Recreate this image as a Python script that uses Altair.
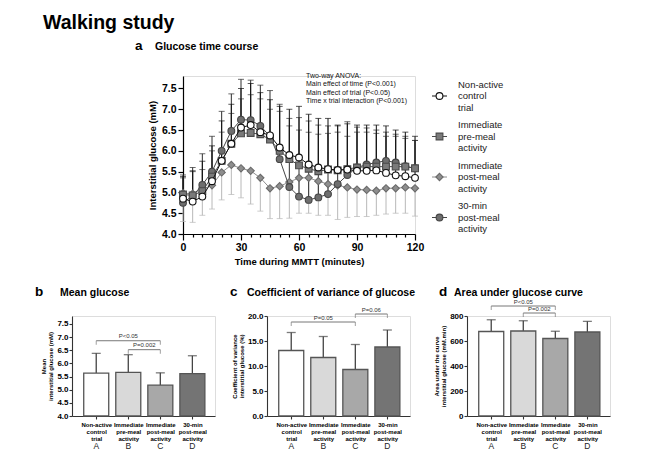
import altair as alt
import pandas as pd

FONT = "Liberation Sans"

# ---------------- data: glucose time course ----------------
times = [0, 5, 10, 15, 20, 25, 30, 35, 40, 45, 50, 55, 60, 65, 70, 75, 80, 85, 90, 95, 100, 105, 110, 115, 120]
control = [4.85, 4.78, 4.90, 5.27, 5.76, 6.17, 6.56, 6.62, 6.45, 6.37, 6.08, 5.90, 5.84, 5.67, 5.60, 5.56, 5.54, 5.55, 5.52, 5.52, 5.53, 5.47, 5.41, 5.39, 5.35]
premeal = [4.95, 4.93, 5.03, 5.38, 5.76, 6.17, 6.42, 6.43, 6.40, 6.27, 6.00, 5.80, 5.65, 5.57, 5.51, 5.55, 5.53, 5.56, 5.60, 5.62, 5.62, 5.62, 5.62, 5.62, 5.58]
postmeal = [4.98, 4.97, 5.08, 5.17, 5.48, 5.66, 5.58, 5.52, 5.35, 5.10, 5.15, 5.25, 5.35, 5.35, 5.27, 5.20, 5.17, 5.12, 5.07, 5.06, 5.04, 5.10, 5.10, 5.12, 5.10]
min30 = [4.75, 4.92, 5.18, 5.50, 6.00, 6.48, 6.75, 6.74, 6.60, 6.35, 5.80, 5.13, 4.90, 4.82, 4.88, 4.96, 5.20, 5.42, 5.60, 5.67, 5.72, 5.76, 5.72, 5.63, 5.58]
control_upper = [5.38, 5.52, 5.75, 6.12, 6.72, 7.12, 7.50, 7.62, 7.40, 7.23, 7.07, 7.00, 7.07, 6.88, 6.78, 6.78, 6.62, 6.65, 6.62, 6.62, 6.62, 6.60, 6.50, 6.45, 6.35]
premeal_upper = [5.35, 5.50, 5.55, 6.00, 6.45, 6.90, 7.25, 7.35, 7.25, 7.00, 6.95, 6.60, 6.50, 6.45, 6.40, 6.42, 6.60, 6.35, 6.45, 6.45, 6.42, 6.35, 6.35, 6.30, 6.25]
min30_upper = [5.42, 5.60, 5.93, 6.35, 6.95, 7.37, 7.72, 7.70, 7.58, 7.45, 7.12, 6.78, 6.80, 6.72, 6.62, 6.60, 6.45, 6.70, 6.57, 6.55, 6.50, 6.45, 6.40, 6.35, 6.25]
postmeal_lower = [4.30, 4.28, 4.45, 4.60, 4.82, 4.95, 4.87, 4.72, 4.55, 4.37, 4.37, 4.38, 4.50, 4.50, 4.45, 4.45, 4.35, 4.40, 4.42, 4.42, 4.45, 4.48, 4.50, 4.50, 4.43]

trial_lines = [["Non-active", "control", "trial"],
               ["Immediate", "pre-meal", "activity"],
               ["Immediate", "post-meal", "activity"],
               ["30-min", "post-meal", "activity"]]
trial_letters = ["A", "B", "C", "D"]
anova_lines = ["Two-way ANOVA:", "Main effect of time (P<0.001)",
               "Main effect of trial (P<0.05)", "Time x trial interaction (P<0.001)"]
y_ticks_main = [4.0, 4.5, 5.0, 5.5, 6.0, 6.5, 7.0, 7.5]

# ---------------- data: summary bars ----------------
mean_glucose = [5.63, 5.66, 5.17, 5.61]
mean_glucose_top = [6.38, 6.33, 5.64, 6.29]
cv_glucose = [13.1, 11.7, 9.3, 13.8]
cv_glucose_top = [16.7, 15.9, 14.3, 17.2]
auc_glucose = [676, 680, 620, 672]
auc_glucose_top = [770, 762, 678, 757]
brackets_b = [(0, 2, 6.86, "P<0.05"), (1, 2, 6.52, "P=0.002")]
brackets_c = [(0, 2, 18.8, "P=0.05"), (2, 3, 20.4, "P=0.06")]
brackets_d = [(0, 2, 880, "P<0.05"), (1, 2, 824, "P=0.002")]

# ---------------- styles ----------------
bar_fills = ["#ffffff", "#d9d9d9", "#a8a8a8", "#747474"]
series = [
    ("post", postmeal, postmeal_lower, 2, dict(shape="diamond", fill="#8e8e8e", stroke="#6a6a6a", line="#8e8e8e", err="#b8b8b8", size=52)),
    ("m30", min30, min30_upper, 3, dict(shape="circle", fill="#6e6e6e", stroke="#454545", line="#454545", err="#2e2e2e", size=46)),
    ("pre", premeal, premeal_upper, 1, dict(shape="square", fill="#7a7a7a", stroke="#4a4a4a", line="#4a4a4a", err="#3a3a3a", size=46)),
    ("ctl", control, control_upper, 0, dict(shape="circle", fill="#ffffff", stroke="#111111", line="#111111", err="#111111", size=46)),
]

W, H = 232, 158
one = pd.DataFrame({"k": [0]})
NOVIEW = alt.ViewBackground(stroke="transparent", fill="transparent")


def anchor(x, y):
    return alt.Chart(one).mark_point(size=0, filled=True, strokeWidth=0, opacity=0).encode(
        x=alt.value(x), y=alt.value(y))


# ---------------- row 0: figure title ----------------
tdf = pd.DataFrame({"big": ["Walking study"]})
row0 = alt.layer(
    anchor(-63, -20), anchor(-63, 6),
    alt.Chart(tdf).mark_text(align="left", baseline="alphabetic", fontSize=19.5, fontWeight="bold",
                             color="#000").encode(x=alt.value(-29), y=alt.value(0), text="big:N"),
).properties(width=1, height=1, view=NOVIEW)

# ---------------- row 1: time course ----------------
xs = alt.Scale(domain=[0, 120], nice=False, zero=False)
ys = alt.Scale(domain=[4.0, 7.8], nice=False, zero=False)
xaxis = alt.Axis(values=times, labelExpr="datum.value % 30 === 0 ? datum.label : ''",
                 tickSize={"condition": {"test": "datum.value % 30 === 0", "value": 6}, "value": 3},
                 title="Time during MMTT (minutes)", labelFontSize=10.5, labelFontWeight="bold",
                 titleFontSize=9.5, titleFontWeight="bold", labelPadding=2, titlePadding=4,
                 labelFlush=False, labelOverlap=False, grid=False, domainColor="#000", tickColor="#000",
                 domainWidth=1.2, tickWidth=1.2, labelColor="#000", titleColor="#000")
yaxis = alt.Axis(values=y_ticks_main, format=".1f", title="Interstitial glucose (mM)",
                 labelFontSize=10.5, labelFontWeight="bold", titleFontSize=9.5, titleFontWeight="bold",
                 tickSize=5, labelPadding=2, titlePadding=4, grid=False, domainColor="#000",
                 tickColor="#000", domainWidth=1.2, tickWidth=1.2, labelColor="#000", titleColor="#000")


def X(f):
    return alt.X(f"{f}:Q", scale=xs, axis=xaxis)


def Y(f):
    return alt.Y(f"{f}:Q", scale=ys, axis=yaxis)


main_layers = [anchor(-60, -39), anchor(-60, 200)]
legend_layers = []
for key, means, err, li, st in series:
    d = pd.DataFrame({"t": times, "v": means, "e": err})
    main_layers.append(alt.Chart(d).mark_rule(color=st["err"], strokeWidth=1).encode(x=X("t"), y=Y("v"), y2="e:Q"))
    main_layers.append(alt.Chart(d).mark_tick(orient="horizontal", size=6, thickness=1, color=st["err"]).encode(x=X("t"), y=Y("e")))
for key, means, err, li, st in series:
    d = pd.DataFrame({"t": times, "v": means})
    main_layers.append(alt.Chart(d).mark_line(color=st["line"], strokeWidth=1).encode(x=X("t"), y=Y("v")))
    main_layers.append(alt.Chart(d).mark_point(shape=st["shape"], size=st["size"], filled=True, fill=st["fill"],
                                               stroke=st["stroke"], strokeWidth=1.1, opacity=1).encode(x=X("t"), y=Y("v")))
    ly = 20 + 40.5 * li
    lg = pd.DataFrame({"label": ["\n".join(trial_lines[li])]})
    legend_layers.append(alt.Chart(lg).mark_rule(color=st["line"], strokeWidth=1).encode(
        x=alt.value(W + 17), x2=alt.value(W + 32), y=alt.value(ly)))
    legend_layers.append(alt.Chart(lg).mark_point(shape=st["shape"], size=st["size"], filled=True, fill=st["fill"],
                                                  stroke=st["stroke"], strokeWidth=1.1, opacity=1).encode(
        x=alt.value(W + 24.5), y=alt.value(ly)))
    for k, line in enumerate(trial_lines[li]):
        ldf = pd.DataFrame({"label": [line]})
        legend_layers.append(alt.Chart(ldf).mark_text(align="left", baseline="middle", fontSize=9.5,
                                                      color="#222").encode(
            x=alt.value(W + 43), y=alt.value(ly + (k - 1) * 11.5), text="label:N"))

anova = pd.DataFrame({"txt": ["\n".join(anova_lines)]})
main_layers.append(alt.Chart(anova).mark_text(align="left", baseline="top", fontSize=7, lineHeight=8.3,
                                              lineBreak="\n", color="#111").encode(
    x=alt.value(123), y=alt.value(-4), text="txt:N"))
titles_top = pd.DataFrame({"a": ["a"], "sub": ["Glucose time course"]})
main_layers.append(alt.Chart(titles_top).mark_text(align="left", baseline="alphabetic", fontSize=13.5,
                                                   fontWeight="bold", color="#000").encode(
    x=alt.value(-48), y=alt.value(-26.5), text="a:N"))
main_layers.append(alt.Chart(titles_top).mark_text(align="left", baseline="alphabetic", fontSize=10.5,
                                                   fontWeight="bold", color="#000").encode(
    x=alt.value(-28), y=alt.value(-26.5), text="sub:N"))

main = alt.layer(*(main_layers + legend_layers)).properties(width=W, height=H)
spacer = alt.layer(anchor(0, 0), anchor(49, 0)).properties(width=49, height=1, view=NOVIEW)
row1 = alt.hconcat(spacer, main, spacing=0)

# ---------------- row 2: bottom panels ----------------
PW, PH = 143, 100
label_expr = "[" + ",".join("[" + ",".join(f"'{s}'" for s in ln) + "]" for ln in trial_lines) + "][datum.value]"


def bar_panel(values, tops, ydom, yticks, yfmt, ytitle, brackets, letter, title, letter_dx, title_dx,
              left_mark, right_mark):
    xsb = alt.Scale(domain=[-0.6, 3.55], nice=False, zero=False)
    ysb = alt.Scale(domain=ydom, nice=False, zero=False)
    xab = alt.Axis(values=[0, 1, 2, 3], labelExpr=label_expr, title=None, labelFontSize=6,
                   labelFontWeight="bold", labelLineHeight=7, tickSize=3, labelPadding=2, labelFlush=False,
                   labelOverlap=False, grid=False, domainColor="#333", tickColor="#333", labelColor="#000",
                   domainWidth=1.1, tickWidth=1.1)
    yab = alt.Axis(values=yticks, format=yfmt, title=ytitle, titleFontSize=6, titleFontWeight="bold",
                   titleLineHeight=7, labelFontSize=8, labelFontWeight="bold", tickSize=3, labelPadding=1,
                   titlePadding=3, grid=False, domainColor="#333", tickColor="#333", labelColor="#000",
                   titleColor="#000", domainWidth=1.1, tickWidth=1.1)

    def XB(f):
        return alt.X(f"{f}:Q", scale=xsb, axis=xab)

    def YB(f):
        return alt.Y(f"{f}:Q", scale=ysb, axis=yab)

    df = pd.DataFrame({"idx": [0, 1, 2, 3], "cat": trial_letters, "m": values, "top": tops,
                       "base": [ydom[0]] * 4})
    br = pd.DataFrame({"i1": [b[0] for b in brackets], "i2": [b[1] for b in brackets],
                       "mid": [(b[0] + b[1]) / 2 for b in brackets], "level": [b[2] for b in brackets],
                       "label": [b[3] for b in brackets]})
    ends = pd.DataFrame({"xi": [b[0] for b in brackets] + [b[1] for b in brackets],
                         "level": [b[2] for b in brackets] * 2})
    tt = pd.DataFrame({"l": [letter], "t": [title]})
    layers = [
        anchor(left_mark, -38), anchor(right_mark, -38),
        alt.Chart(df).mark_rule(color="#444", strokeWidth=1.3).encode(x=XB("idx"), y=YB("m"), y2="top:Q"),
        alt.Chart(df).mark_tick(orient="horizontal", size=9, thickness=1.3, color="#444").encode(x=XB("idx"), y=YB("top")),
        alt.Chart(df).mark_bar(size=25, stroke="#555", strokeWidth=1.3).encode(
            x=XB("idx"), y=YB("m"), y2="base:Q",
            fill=alt.Fill("cat:N", scale=alt.Scale(domain=trial_letters, range=bar_fills), legend=None)),
        alt.Chart(br).mark_rule(color="#777", strokeWidth=1).encode(x=XB("i1"), x2="i2:Q", y=YB("level")),
        alt.Chart(ends).mark_tick(orient="vertical", size=4, thickness=1, yOffset=2, color="#777").encode(
            x=XB("xi"), y=YB("level")),
        alt.Chart(br).mark_text(baseline="bottom", dy=-1.5, fontSize=6, color="#333").encode(
            x=XB("mid"), y=YB("level"), text="label:N"),
        alt.Chart(df).mark_text(fontSize=8.5, color="#222", baseline="middle").encode(
            x=XB("idx"), y=alt.value(PH + 30), text="cat:N"),
        alt.Chart(tt).mark_text(align="left", baseline="alphabetic", fontSize=13.5, fontWeight="bold",
                                color="#000").encode(x=alt.value(letter_dx), y=alt.value(-20), text="l:N"),
        alt.Chart(tt).mark_text(align="left", baseline="alphabetic", fontSize=10.5, fontWeight="bold",
                                color="#000").encode(x=alt.value(title_dx), y=alt.value(-20), text="t:N"),
    ]
    return alt.layer(*layers).properties(width=PW, height=PH)


panel_b = bar_panel(mean_glucose, mean_glucose_top, [4.0, 7.8], [4.0, 4.5, 5.0, 5.5, 6.0, 6.5, 7.0, 7.5], ".1f",
                    ["Mean", "interstitial glucose (mM)"], brackets_b, "b", "Mean glucose", -37, -12, -63, 150)
panel_c = bar_panel(cv_glucose, cv_glucose_top, [0, 20], [0, 5, 10, 15, 20], ".1f",
                    ["Coefficient of variance", "interstitial glucose (%)"], brackets_c, "c",
                    "Coefficient of variance of glucose", -37, -20, -43, 155)
panel_d = bar_panel(auc_glucose, auc_glucose_top, [0, 800], [0, 200, 400, 600, 800], "d",
                    ["Area under the curve", "interstitial glucose (mM.min)"], brackets_d, "d",
                    "Area under glucose curve", -28, -13, -43, 155)

row2 = alt.hconcat(panel_b, panel_c, panel_d, spacing=0)

chart = alt.vconcat(row0, row1, row2, spacing=0).properties(padding=0).configure_view(stroke=None).configure(font=FONT)

chart.save("out.html", embed_options={"renderer": "svg", "actions": False})
